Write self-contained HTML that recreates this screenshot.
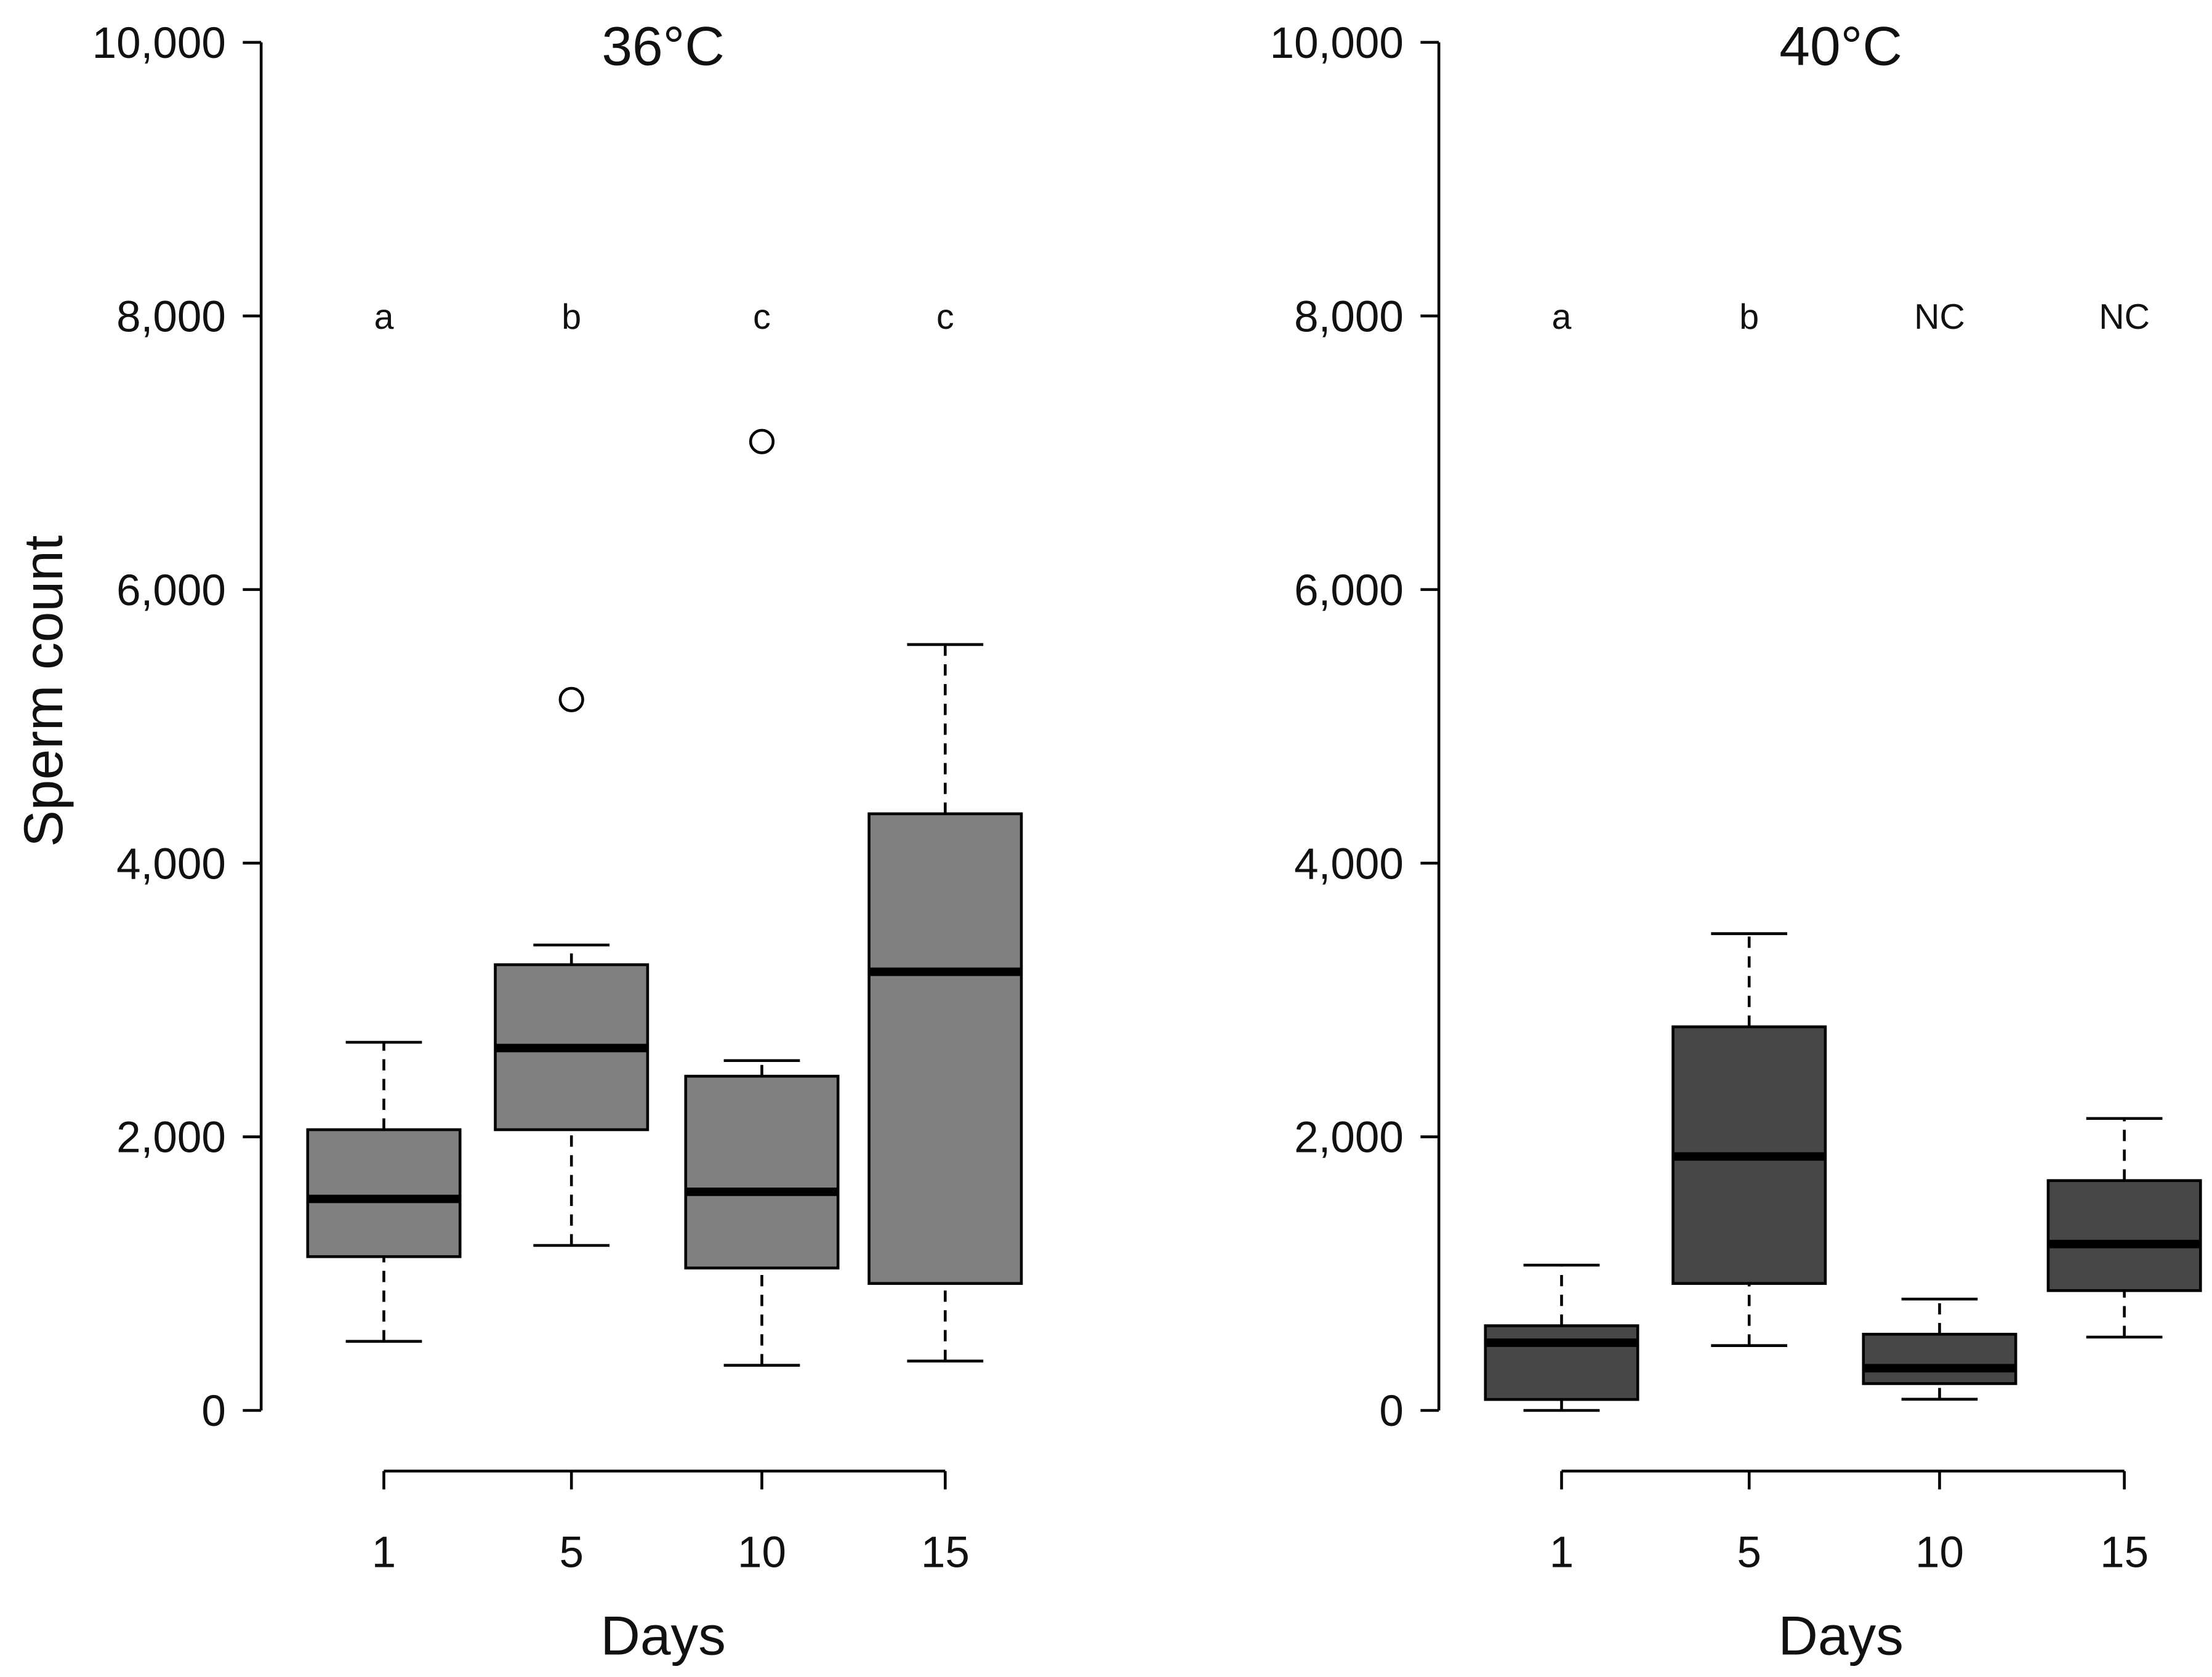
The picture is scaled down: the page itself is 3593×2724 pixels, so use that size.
<!DOCTYPE html>
<html><head><meta charset="utf-8"><style>
html,body{margin:0;padding:0;background:#fff}
svg{display:block}
text{font-family:"Liberation Sans",sans-serif;fill:#111}
</style></head><body>
<svg id="chart" width="3593" height="2724" viewBox="0 0 1568 1189" xmlns="http://www.w3.org/2000/svg"></svg>
<script>
const days = ["1","5","10","15"];
const yTicks = [0,2000,4000,6000,8000,10000];
const yTickLabels = ["0","2,000","4,000","6,000","8,000","10,000"];
const titles = ["36°C","40°C"];
const letters36 = ["a","b","c","c"];
const letters40 = ["a","b","NC","NC"];
// [low, q1, median, q3, high]
const stats36 = [[505,1124,1546,2052,2691],[1206,2052,2649,3258,3402],[330,1041,1598,2443,2557],[361,928,3206,4361,5598]];
const stats40 = [[0,80,495,619,1062],[474,928,1856,2804,3485],[82,196,309,557,814],[536,876,1216,1680,2134]];
const outliers36 = [[],[5196],[7082],[]];
const outliers40 = [[],[],[],[]];

const NS="http://www.w3.org/2000/svg";
const svg=document.getElementById('chart');
function el(tag,attrs,parent){const e=document.createElementNS(NS,tag);for(const k in attrs)e.setAttribute(k,attrs[k]);(parent||svg).appendChild(e);return e;}
const y=v=>1000-v*0.097;
const panels=[
 {ax:185,xs:[272,405,540,670],fill:"#808080",stats:stats36,out:outliers36,letters:letters36,title:titles[0],cx:470},
 {ax:1020,xs:[1107,1240,1375,1506],fill:"#474747",stats:stats40,out:outliers40,letters:letters40,title:titles[1],cx:1305}
];
panels.forEach((p,pi)=>{
  const g=el('g',{});
  
  
  const ya=el('line',{x1:p.ax,x2:p.ax,y1:y(10000),y2:y(0),stroke:'#000','stroke-width':2},g);
  
  
  yTicks.forEach((t,i)=>{
    el('line',{x1:p.ax-13,x2:p.ax,y1:y(t),y2:y(t),stroke:'#000','stroke-width':2},g);
    const tx=el('text',{x:p.ax-25,y:y(t)+11,'font-size':31,'text-anchor':'end'},g);
    tx.textContent=yTickLabels[i];
    
    
  });
  const xa=el('line',{x1:p.xs[0],x2:p.xs[3],y1:1043,y2:1043,stroke:'#000','stroke-width':2},g);
  
  
  p.xs.forEach((x,i)=>{
    el('line',{x1:x,x2:x,y1:1043,y2:1056,stroke:'#000','stroke-width':2},g);
    const tx=el('text',{x:x,y:1111,'font-size':31,'text-anchor':'middle'},g);
    tx.textContent=days[i];
    
    
    const s=p.stats[i];
    const hw=54,cw=27;
    const bg=el('g',{},g);
    
    
    el('line',{x1:x,x2:x,y1:y(s[0]),y2:y(s[1]),stroke:'#000','stroke-width':2,'stroke-dasharray':'8,6'},bg);
    el('line',{x1:x,x2:x,y1:y(s[3]),y2:y(s[4]),stroke:'#000','stroke-width':2,'stroke-dasharray':'8,6'},bg);
    el('line',{x1:x-cw,x2:x+cw,y1:y(s[0]),y2:y(s[0]),stroke:'#000','stroke-width':2},bg);
    el('line',{x1:x-cw,x2:x+cw,y1:y(s[4]),y2:y(s[4]),stroke:'#000','stroke-width':2},bg);
    el('rect',{x:x-hw,y:y(s[3]),width:2*hw,height:y(s[1])-y(s[3]),fill:p.fill,stroke:'#000','stroke-width':2},bg);
    el('line',{x1:x-hw,x2:x+hw,y1:y(s[2]),y2:y(s[2]),stroke:'#000','stroke-width':6},bg);
    p.out[i].forEach(o=>{
      const c=el('circle',{cx:x,cy:y(o),r:8,fill:'none',stroke:'#000','stroke-width':2},g);
      
      
    });
    const lt=el('text',{x:x,y:y(8000)+9,'font-size':25,'text-anchor':'middle'},g);
    lt.textContent=p.letters[i];
    
    
  });
  const t=el('text',{x:p.cx,y:46,'font-size':39,'text-anchor':'middle'},g);
  t.textContent=p.title;
  
  
  const xt=el('text',{x:p.cx,y:1173,'font-size':39,'text-anchor':'middle'},g);
  xt.textContent='Days';
  
  
});
const yl=el('text',{x:0,y:0,'font-size':39,'text-anchor':'middle',transform:'translate(44,490) rotate(-90)'});
yl.textContent='Sperm count';


</script>
</body></html>
